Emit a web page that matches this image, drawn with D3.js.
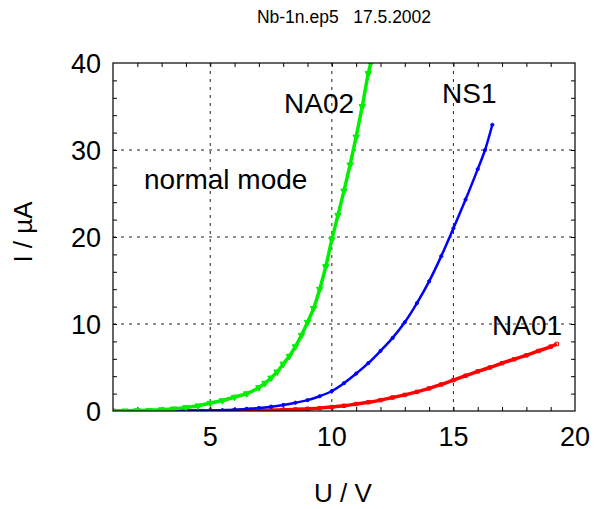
<!DOCTYPE html>
<html>
<head>
<meta charset="utf-8">
<script src="https://cdn.jsdelivr.net/npm/d3@7"></script>
<style>
  body { margin: 0; background: #fff; }
  svg { font-family: "Liberation Sans", Arial, sans-serif; }
</style>
</head>
<body>
<svg></svg>
<script>
const width = 594;
const height = 509;

// Data (U in V, I in uA)
const na02U = [1, 1.5, 2, 2.5, 3, 3.5, 4, 4.5, 5, 5.5, 6, 6.5, 7, 7.25, 7.5, 7.75, 8, 8.25, 8.5, 8.75, 9, 9.25, 9.5, 9.75, 10, 10.25, 10.5, 10.75, 11, 11.25, 11.5, 11.6];
const na02I = [0, 0.02, 0.05, 0.08, 0.15, 0.25, 0.4, 0.6, 0.9, 1.2, 1.6, 2.0, 2.7, 3.2, 3.8, 4.5, 5.4, 6.3, 7.4, 8.7, 10.2, 11.8, 14.0, 16.6, 19.7, 22.5, 25.3, 28.3, 31.5, 35.0, 38.8, 40];

const ns1U = [1, 2, 3, 4, 5, 5.5, 6, 6.5, 7, 7.5, 8, 8.5, 9, 9.5, 10, 10.5, 11, 11.5, 12, 12.5, 13, 13.5, 14, 14.5, 15, 15.5, 16, 16.3, 16.6];
const ns1I = [0, 0.01, 0.02, 0.03, 0.06, 0.1, 0.15, 0.25, 0.35, 0.5, 0.7, 0.95, 1.25, 1.7, 2.3, 3.2, 4.3, 5.5, 6.9, 8.4, 10.2, 12.4, 14.9, 17.8, 21.0, 24.3, 27.8, 30.0, 32.9];

const na01U = [1, 2, 3, 4, 5, 6, 7, 7.5, 8, 8.5, 9, 9.5, 10, 10.5, 11, 11.5, 12, 12.5, 13, 13.5, 14, 14.5, 15, 15.5, 16, 16.5, 17, 17.5, 18, 18.5, 19, 19.25];
const na01I = [0, 0, 0.01, 0.02, 0.03, 0.05, 0.08, 0.1, 0.13, 0.18, 0.25, 0.33, 0.45, 0.6, 0.8, 1.0, 1.25, 1.55, 1.85, 2.2, 2.6, 3.05, 3.55, 4.05, 4.55, 5.0, 5.5, 5.95, 6.4, 6.9, 7.4, 7.7];

const xTicks = [5, 10, 15, 20];
const yTicks = [0, 10, 20, 30, 40];

const margin = {top: 63, right: 19, bottom: 98, left: 113};
const iw = width - margin.left - margin.right;
const ih = height - margin.top - margin.bottom;

const svg = d3.select("svg")
    .attr("width", width)
    .attr("height", height);

const x = d3.scaleLinear().domain([1, 20]).range([0, iw]);
const y = d3.scaleLinear().domain([0, 40]).range([ih, 0]);

const g = svg.append("g")
    .attr("transform", `translate(${margin.left},${margin.top})`);

// clip for the curves
svg.append("defs").append("clipPath")
    .attr("id", "clip")
    .append("rect")
    .attr("width", iw)
    .attr("height", ih);

// grid
g.selectAll(".gx")
    .data([5, 10, 15])
    .enter().append("line")
    .attr("x1", d => x(d)).attr("x2", d => x(d))
    .attr("y1", 0).attr("y2", ih)
    .attr("stroke", "#222")
    .attr("stroke-dasharray", "3,5");

g.selectAll(".gy")
    .data([10, 20, 30])
    .enter().append("line")
    .attr("x1", 0).attr("x2", iw)
    .attr("y1", d => y(d)).attr("y2", d => y(d))
    .attr("stroke", "#222")
    .attr("stroke-dasharray", "3,5");

// axes with inward ticks on all sides
const xMinor = d3.range(2, 20, 1);
const yMinor = d3.range(2, 40, 2);

g.append("g")
    .attr("transform", `translate(0,${ih})`)
    .call(d3.axisBottom(x).tickValues(xMinor).tickSize(-4).tickFormat(""));
g.append("g")
    .call(d3.axisTop(x).tickValues(xMinor).tickSize(-4).tickFormat(""));
g.append("g")
    .call(d3.axisLeft(y).tickValues(yMinor).tickSize(-4).tickFormat(""));
g.append("g")
    .attr("transform", `translate(${iw},0)`)
    .call(d3.axisRight(y).tickValues(yMinor).tickSize(-4).tickFormat(""));

g.selectAll(".domain").remove();
g.selectAll(".tick line").attr("stroke", "#000");

// tick labels
g.selectAll(".xl")
    .data(xTicks)
    .enter().append("text")
    .attr("x", d => x(d))
    .attr("y", ih + 35)
    .attr("text-anchor", "middle")
    .style("font-size", "27px")
    .text(d => d);

g.selectAll(".yl")
    .data(yTicks)
    .enter().append("text")
    .attr("x", -12)
    .attr("y", d => y(d) + 10)
    .attr("text-anchor", "end")
    .style("font-size", "27px")
    .text(d => d);

// series
const series = [
    {u: na01U, i: na01I, color: "#ff0000", shape: "square"},
    {u: ns1U, i: ns1I, color: "#0000ff", shape: "dot"},
    {u: na02U, i: na02I, color: "#00ee00", shape: "tri"}
];

const line = d3.line()
    .x(d => x(d[0]))
    .y(d => y(d[1]))
    .curve(d3.curveCatmullRom.alpha(0.5));

const plot = g.append("g").attr("clip-path", "url(#clip)");

series.forEach(s => {
    const pts = s.u.map((u, k) => [u, s.i[k]]);
    plot.append("path")
        .datum(pts)
        .attr("fill", "none")
        .attr("stroke", s.color)
        .attr("stroke-width", s.shape === "dot" ? 2.5 : 3.5)
        .attr("d", line);
    const sym = s.shape === "tri"
        ? d3.symbol().type(d3.symbolTriangle).size(18)
        : s.shape === "square" ? d3.symbol().type(d3.symbolSquare).size(12)
        : d3.symbol().type(d3.symbolCircle).size(8);
    plot.selectAll(null)
        .data(pts)
        .enter().append("path")
        .attr("transform", d => `translate(${x(d[0])},${y(d[1])})` + (s.shape === "tri" ? " rotate(180)" : ""))
        .attr("d", sym)
        .attr("fill", s.shape === "square" ? "none" : s.color)
        .attr("stroke", s.color)
        .attr("stroke-width", 1);
});

// frame
g.append("rect")
    .attr("width", iw)
    .attr("height", ih)
    .attr("fill", "none")
    .attr("stroke", "#000")
    .attr("stroke-width", 1.2);

// titles and labels
svg.append("text")
    .attr("x", 344)
    .attr("y", 23)
    .attr("text-anchor", "middle")
    .style("font-size", "17.5px")
    .style("white-space", "pre")
    .attr("xml:space", "preserve")
    .text("Nb-1n.ep5   17.5.2002");

svg.append("text")
    .attr("x", 343)
    .attr("y", 502)
    .attr("text-anchor", "middle")
    .style("font-size", "26px")
    .text("U / V");

svg.append("text")
    .attr("transform", "translate(32,232) rotate(-90)")
    .attr("text-anchor", "middle")
    .style("font-size", "26px")
    .text("I / µA");

const labels = [
    {t: "NA02", x: 284, y: 113},
    {t: "NS1", x: 442, y: 103},
    {t: "NA01", x: 492, y: 335},
    {t: "normal mode", x: 144, y: 189}
];

svg.selectAll(".lab")
    .data(labels)
    .enter().append("text")
    .attr("x", d => d.x)
    .attr("y", d => d.y)
    .style("font-size", "28px")
    .text(d => d.t);
</script>
</body>
</html>
